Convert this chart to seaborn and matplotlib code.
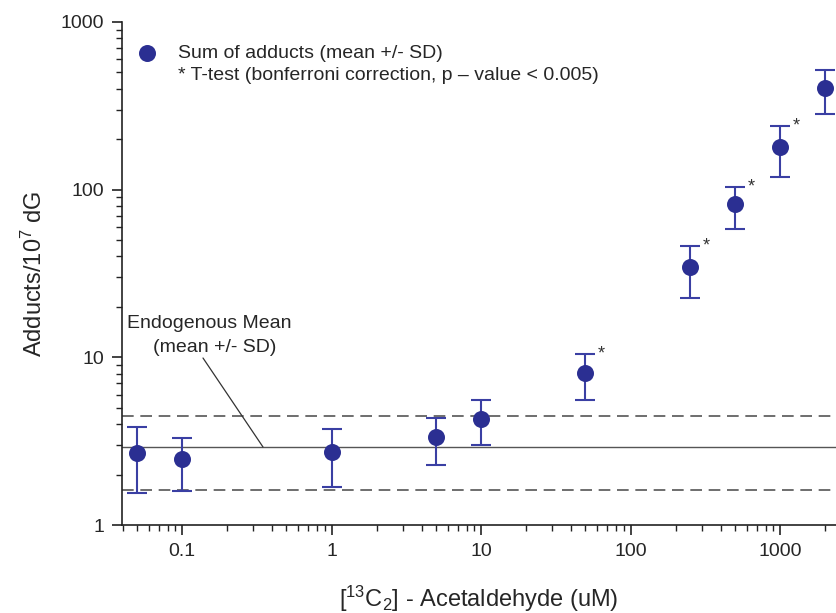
import matplotlib
matplotlib.use("Agg")
import matplotlib.pyplot as plt
import seaborn as sns
import numpy as np
import pandas as pd

# Data
conc = [0.05, 0.1, 1, 5, 10, 50, 250, 500, 1000, 2000]
mean_adducts = [2.70, 2.46, 2.74, 3.33, 4.27, 8.09, 34.4, 81.7, 180, 402]
upper = [3.83, 3.30, 3.75, 4.36, 5.54, 10.46, 45.9, 104, 240, 519]
lower = [1.56, 1.60, 1.69, 2.29, 3.00, 5.56, 22.7, 58.5, 119, 281]
significant = [False, False, False, False, False, True, True, True, True, True]

endo_mean = 2.92
endo_upper = 4.48
endo_lower = 1.61

sns.set_theme(style="ticks")
plt.rcParams['font.family'] = ['Liberation Sans', 'DejaVu Sans']
plt.rcParams['mathtext.fontset'] = 'custom'
plt.rcParams['mathtext.rm'] = 'Liberation Sans'
plt.rcParams['mathtext.it'] = 'Liberation Sans:italic'
plt.rcParams['mathtext.bf'] = 'Liberation Sans:bold'
plt.rcParams['mathtext.default'] = 'regular'

W, H = 836, 613
fig = plt.figure(figsize=(W / 100, H / 100), dpi=100)
left_px, right_px, top_px, bot_px = 122, 836, 22, 525
ax = fig.add_axes([left_px / W, 1 - bot_px / H, (right_px - left_px) / W, (bot_px - top_px) / H])

df = pd.DataFrame({"conc": conc, "mean": mean_adducts, "upper": upper, "lower": lower})
err_lo = df["mean"] - df["lower"]
err_hi = df["upper"] - df["mean"]

ax.set_xscale("log")
ax.set_yscale("log")

# Endogenous band
ax.axhline(endo_mean, color="#555555", lw=1.0, zorder=1)
ax.axhline(endo_upper, color="#555555", lw=1.2, ls=(0, (7, 4)), zorder=1)
ax.axhline(endo_lower, color="#555555", lw=1.2, ls=(0, (7, 4)), zorder=1)

ax.errorbar(df["conc"], df["mean"], yerr=[err_lo, err_hi], fmt="none",
            ecolor="#3a3fa3", elinewidth=1.5, capsize=7.5, capthick=1.5, zorder=2)
sns.scatterplot(data=df, x="conc", y="mean", ax=ax, color="#2b2f92", s=150,
                edgecolor="#2b2f92", linewidth=0, zorder=3, legend=False)

# significance stars
for c, u, s in zip(conc, upper, significant):
    if s:
        ax.annotate("*", xy=(c, u), xytext=(9, -6), textcoords="offset points",
                    fontsize=13, color="#333333", ha="left", va="bottom", annotation_clip=False)

xmin = 10 ** (-1 - (182 - 122) / 149.5)
xmax = 10 ** (3 + (836 - 780) / 149.5)
ax.set_xlim(xmin, xmax)
ax.set_ylim(1, 1000)

ax.set_xticks([0.1, 1, 10, 100, 1000])
ax.set_xticklabels(["0.1", "1", "10", "100", "1000"])
ax.set_yticks([1, 10, 100, 1000])
ax.set_yticklabels(["1", "10", "100", "1000"])

for sp in ["top", "right"]:
    ax.spines[sp].set_visible(False)
for sp in ["left", "bottom"]:
    ax.spines[sp].set_color("#222222")
    ax.spines[sp].set_linewidth(1.2)
ax.tick_params(which="major", direction="out", length=7, width=1.2, labelsize=14, color="#222222", pad=6)
ax.tick_params(which="minor", direction="out", length=4, width=1.0, color="#222222")

ax.set_xlabel(r"[$^{13}$C$_2$] - Acetaldehyde (uM)", fontsize=17, labelpad=17)
ax.set_ylabel(r"Adducts/10$^7$ dG", fontsize=17, labelpad=10)

# Legend (manual)
fig.text(178 / W, 1 - 53 / H, "Sum of adducts (mean +/- SD)", fontsize=14, va="center", ha="left")
fig.text(178 / W, 1 - 76 / H, "* T-test (bonferroni correction, p \u2013 value < 0.005)", fontsize=14, va="center", ha="left")
leg_ax = fig.add_axes([0, 0, 1, 1], facecolor="none")
leg_ax.set_xlim(0, W)
leg_ax.set_ylim(H, 0)
leg_ax.axis("off")
leg_ax.scatter([147], [53], s=150, color="#2b2f92", linewidths=0)

# Endogenous annotation
leg_ax.text(209, 323, "Endogenous Mean", fontsize=14, ha="center", va="center")
leg_ax.text(215, 347, "(mean +/- SD)", fontsize=14, ha="center", va="center")
leg_ax.plot([203, 263], [358, 447], color="#333333", lw=0.9)

fig.savefig("out.png", dpi=100)
